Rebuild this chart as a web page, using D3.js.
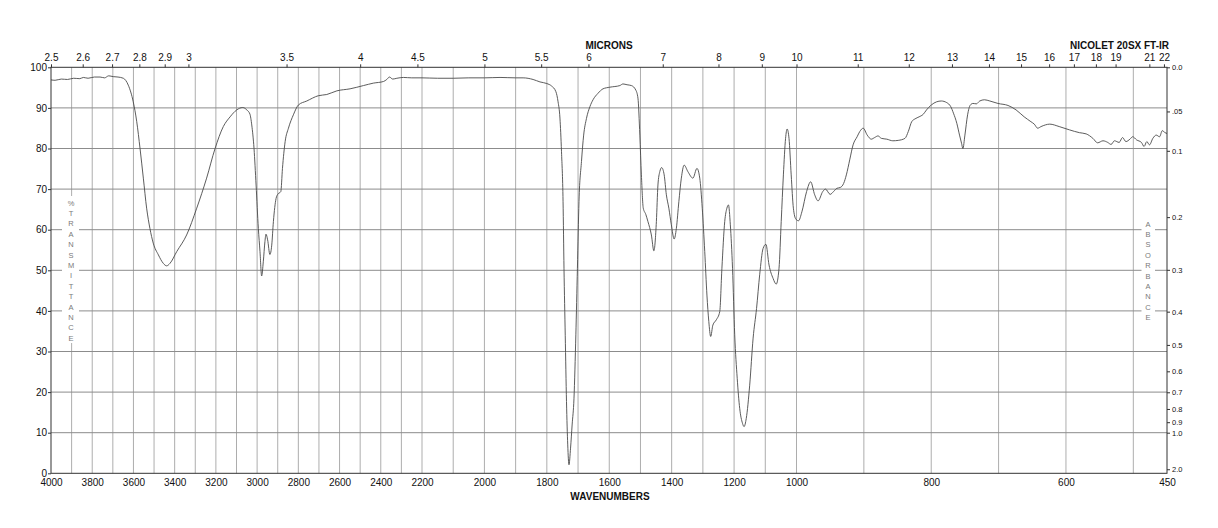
<!DOCTYPE html>
<html>
<head>
<meta charset="utf-8">
<script src="https://cdn.jsdelivr.net/npm/d3@7"></script>
<style>
  body { margin: 0; background: #fff; }
  svg { font-family: "Liberation Sans", Arial, Helvetica, sans-serif; }
</style>
</head>
<body>
<svg id="chart" width="1218" height="528"></svg>
<script>
// spectrum (cm-1, %T)
const wavenumbers = [
  4000, 3980, 3950, 3920, 3890, 3860, 3843, 3820, 3790, 3762, 3740, 3720, 3698, 3675, 3649,
  3625, 3601, 3584, 3568, 3552, 3536, 3520, 3504, 3479, 3455, 3439, 3423, 3390, 3342, 3293,
  3245, 3204, 3164, 3131, 3099, 3070, 3050, 3035, 3026, 3015, 3005, 2994, 2986, 2978, 2970,
  2962, 2957, 2949, 2938, 2929, 2921, 2908, 2900, 2885, 2877, 2864, 2848, 2824, 2800, 2759,
  2703, 2662, 2613, 2549, 2484, 2436, 2387, 2371, 2358, 2342, 2322, 2290, 2250, 2200, 2150,
  2100, 2050, 2000, 1950, 1900, 1876, 1844, 1822, 1800, 1785, 1771, 1764, 1758, 1753, 1748,
  1745, 1741, 1737, 1733, 1729, 1724, 1719, 1713, 1707, 1702, 1697, 1689, 1682, 1673, 1662,
  1652, 1636, 1620, 1598, 1566, 1556, 1543, 1529, 1515, 1508, 1502, 1497, 1491, 1483, 1476,
  1465, 1457, 1449, 1444, 1438, 1432, 1424, 1417, 1409, 1401, 1392, 1385, 1377, 1369, 1360,
  1348, 1332, 1319, 1310, 1302, 1294, 1287, 1281, 1275, 1268, 1257, 1246, 1239, 1230, 1223,
  1218, 1212, 1205, 1198, 1190, 1182, 1173, 1168, 1161, 1150, 1139, 1128, 1118, 1107, 1098,
  1088, 1075, 1065, 1056, 1049, 1042, 1035, 1030, 1024, 1017, 1010, 1002, 997, 992, 985,
  979, 973, 968, 961, 957, 950, 945, 940, 935, 930, 926, 921, 916, 910, 906,
  901, 895, 889, 884, 879, 874, 866, 857, 849, 839, 834, 829, 824, 818, 812,
  807, 800, 792, 785, 777, 771, 767, 762, 758, 755, 753, 750, 746, 742, 738,
  733, 728, 721, 713, 701, 686, 674, 662, 652, 647, 642, 637, 624, 610, 595,
  580, 570, 560, 553, 545, 538, 533, 528, 521, 516, 511, 505, 501, 495, 488,
  484, 480, 476, 471, 466, 461, 457, 453, 450
];
const transmittance = [
  96.9, 96.8, 97.1, 97.0, 97.3, 97.2, 97.5, 97.3, 97.6, 97.6, 97.4, 97.9, 97.7, 97.6, 97.3,
  95.6, 91.5, 86.6, 80.0, 72.7, 65.3, 60.3, 56.7, 53.8, 51.7, 51.1, 51.7, 54.6, 58.7, 65.3,
  72.7, 80.0, 85.4, 87.8, 89.5, 90.1, 89.5, 88.5, 85.8, 80.0, 71.0, 60.3, 54.6, 48.6, 52.1,
  57.1, 58.9, 57.5, 53.9, 56.2, 62.0, 67.7, 68.7, 69.4, 75.1, 81.7, 85.0, 88.3, 90.7, 91.7,
  93.0, 93.3, 94.2, 94.7, 95.5, 96.1, 96.5, 97.0, 97.6, 97.1, 97.3, 97.5, 97.4, 97.4, 97.3,
  97.3, 97.4, 97.4, 97.5, 97.4, 97.4, 97.0, 96.4, 96.0, 95.4, 94.0, 91.5, 87.5, 79.2, 66.9,
  50.5, 34.0, 17.7, 7.0, 2.1, 6.2, 11.9, 18.5, 34.1, 50.5, 66.9, 76.8, 83.3, 87.4, 90.3,
  92.0, 93.6, 94.7, 95.1, 95.5, 95.9, 95.7, 95.5, 94.4, 92.4, 83.3, 73.5, 65.3, 63.8, 62.0,
  58.7, 54.8, 62.0, 71.0, 74.3, 75.3, 73.5, 68.6, 65.3, 61.2, 57.7, 60.3, 66.9, 72.7, 75.9,
  74.3, 72.7, 75.1, 72.7, 65.3, 54.6, 43.9, 37.4, 33.7, 36.5, 37.8, 39.8, 50.5, 62.0, 65.3,
  66.1, 61.2, 50.5, 34.1, 23.4, 16.0, 12.3, 11.5, 13.5, 21.7, 33.3, 40.6, 48.9, 55.4, 56.4,
  51.3, 48.0, 46.6, 50.5, 62.0, 73.5, 82.5, 84.8, 82.5, 73.5, 65.3, 62.6, 62.2, 64.4, 69.4,
  71.8, 68.6, 67.1, 69.4, 70.0, 68.7, 69.4, 70.2, 70.4, 71.4, 73.5, 77.2, 80.9, 82.9, 84.2,
  85.0, 83.3, 82.3, 82.7, 83.1, 82.5, 82.3, 81.9, 82.0, 82.5, 84.2, 86.6, 87.3, 87.8, 88.4,
  89.5, 90.7, 91.5, 91.7, 91.3, 90.3, 88.7, 86.2, 83.3, 81.3, 80.0, 83.3, 88.3, 90.7, 91.1,
  91.0, 91.7, 92.0, 91.7, 91.1, 90.6, 89.5, 87.8, 86.6, 86.0, 85.0, 85.4, 86.0, 85.4, 84.6,
  83.9, 83.6, 82.5, 81.4, 81.9, 81.5, 81.0, 81.9, 81.5, 82.7, 81.7, 82.3, 82.9, 82.1, 81.5,
  80.5, 81.7, 80.9, 82.5, 83.3, 82.9, 84.4, 83.9, 83.7
];

const wnLabels = [4000, 3800, 3600, 3400, 3200, 3000, 2800, 2600, 2400, 2200,
  2000, 1800, 1600, 1400, 1200, 1000, 800, 600, 450];
const micronLabels = [2.5, 2.6, 2.7, 2.8, 2.9, 3, 3.5, 4, 4.5, 5, 5.5, 6, 7, 8, 9,
  10, 11, 12, 13, 14, 15, 16, 17, 18, 19, 21, 22];
const absValues = [0, 0.05, 0.1, 0.2, 0.3, 0.4, 0.5, 0.6, 0.7, 0.8, 0.9, 1.0, 2.0];
const absLabels = ["0.0", ".05", "0.1", "0.2", "0.3", "0.4", "0.5", "0.6", "0.7", "0.8", "0.9", "1.0", "2.0"];
const pctLabels = [0, 10, 20, 30, 40, 50, 60, 70, 80, 90, 100];
const gridWn = d3.range(500, 4000, 100);

const svg = d3.select("#chart");
const plotLeft = 51, plotRight = 1167, plotTop = 67.3, plotBottom = 473.3;

// the instrument expands the scale twice: at 2200 and at 1000 cm-1
const x = d3.scaleLinear().domain([4000, 2200, 1000, 450]).range([plotLeft, 422, 796.5, plotRight]);
const y = d3.scaleLinear().domain([0, 100]).range([plotBottom, plotTop]);

// grid
svg.append("g")
  .selectAll("line")
  .data(gridWn)
  .join("line")
  .attr("x1", d => x(d)).attr("x2", d => x(d))
  .attr("y1", plotTop).attr("y2", plotBottom)
  .attr("stroke", "#adadad").attr("stroke-width", 1);

svg.append("g")
  .selectAll("line")
  .data(pctLabels.slice(1, -1))
  .join("line")
  .attr("x1", plotLeft).attr("x2", plotRight)
  .attr("y1", d => y(d)).attr("y2", d => y(d))
  .attr("stroke", "#8c8c8c").attr("stroke-width", 1);

// white boxes behind the stacked axis titles
svg.append("rect").attr("x", 62).attr("y", 196).attr("width", 17).attr("height", 147).attr("fill", "#fff");
svg.append("rect").attr("x", 1141.5).attr("y", 217).attr("width", 13.5).attr("height", 107).attr("fill", "#fff");

const leftTitle = "%TRANSMITTANCE".split("");
svg.append("g")
  .selectAll("text")
  .data(leftTitle)
  .join("text")
  .attr("x", 71)
  .attr("y", (d, i) => 203 + i * 10.4)
  .attr("dy", "0.35em")
  .attr("text-anchor", "middle")
  .attr("font-size", 7.5)
  .attr("fill", "#7a7a7a")
  .text(d => d);

const rightTitle = "ABSORBANCE".split("");
svg.append("g")
  .selectAll("text")
  .data(rightTitle)
  .join("text")
  .attr("x", 1148)
  .attr("y", (d, i) => 224 + i * 10.4)
  .attr("dy", "0.35em")
  .attr("text-anchor", "middle")
  .attr("font-size", 7.5)
  .attr("fill", "#7a7a7a")
  .text(d => d);

// spectrum
const line = d3.line()
  .x((d, i) => x(wavenumbers[i]))
  .y((d, i) => y(transmittance[i]))
  .curve(d3.curveMonotoneX);

svg.append("path")
  .datum(wavenumbers)
  .attr("d", line)
  .attr("fill", "none")
  .attr("stroke", "#4a4a4a")
  .attr("stroke-width", 0.9);

// frame
svg.append("rect")
  .attr("x", plotLeft).attr("y", plotTop)
  .attr("width", plotRight - plotLeft).attr("height", plotBottom - plotTop)
  .attr("fill", "none").attr("stroke", "#333").attr("stroke-width", 1);

// axes
const styleAxis = (g, size) => {
  g.select(".domain").remove();
  g.selectAll("text").attr("font-size", size).attr("fill", "#111").attr("font-family", null);
  g.selectAll("line").attr("stroke", "#333");
};

svg.append("g")
  .attr("transform", `translate(${plotLeft},0)`)
  .call(d3.axisLeft(y).tickValues(pctLabels).tickSize(3).tickPadding(1))
  .call(g => styleAxis(g, 10));

svg.append("g")
  .attr("transform", `translate(0,${plotBottom})`)
  .call(d3.axisBottom(x).tickValues(wnLabels).tickSize(0).tickPadding(6).tickFormat(d3.format("d")))
  .call(g => styleAxis(g, 10));

svg.append("g")
  .attr("transform", `translate(0,${plotTop})`)
  .call(d3.axisTop(x).tickValues(micronLabels.map(m => 10000 / m)).tickSize(3).tickPadding(3)
    .tickFormat((d, i) => String(micronLabels[i])))
  .call(g => styleAxis(g, 10));

svg.append("g")
  .attr("transform", `translate(${plotRight},0)`)
  .call(d3.axisRight(y).tickValues(absValues.map(a => 100 * Math.pow(10, -a))).tickSize(3).tickPadding(2)
    .tickFormat((d, i) => absLabels[i]))
  .call(g => styleAxis(g, 7.5));

// titles
svg.append("text").attr("x", 609).attr("y", 48.5).attr("text-anchor", "middle")
  .attr("font-size", 10).attr("font-weight", "bold").attr("fill", "#111").text("MICRONS");
svg.append("text").attr("x", 1169).attr("y", 48.5).attr("text-anchor", "end")
  .attr("font-size", 10).attr("font-weight", "bold").attr("fill", "#111").text("NICOLET 20SX FT-IR");
svg.append("text").attr("x", 610).attr("y", 499.5).attr("text-anchor", "middle")
  .attr("font-size", 10).attr("font-weight", "bold").attr("fill", "#111").text("WAVENUMBERS");
</script>
</body>
</html>
